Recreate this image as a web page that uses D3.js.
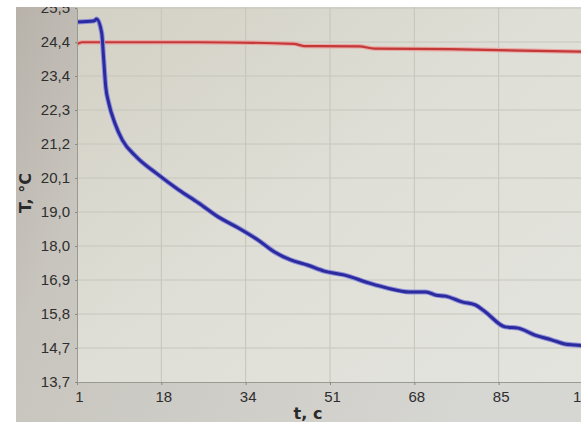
<!DOCTYPE html>
<html>
<head>
<meta charset="utf-8">
<script src="https://cdn.jsdelivr.net/npm/d3@7"></script>
<style>
  body { margin: 0; background: #fff; }
  #grafico { width: 581px; height: 422px; }
</style>
</head>
<body>
<div id="grafico"></div>
<script>
const xTickLabels = ["1", "18", "34", "51", "68", "85", "101"];
const yTickLabels = ["13,7", "14,7", "15,8", "16,9", "18,0", "19,0", "20,1", "21,2", "22,3", "23,4", "24,4", "25,5"];

const tAzul = [1, 4.3, 4.9, 5.9, 6.3, 6.7, 7.3, 8.5, 10, 12.8, 16.7, 21.2, 25.1, 29, 33, 36.9, 40.2, 43.4, 46.7, 50,
               53.9, 59, 62.4, 66.9, 70.2, 72.2, 74.1, 77.5, 80, 82, 85.9, 88.5, 91.8, 95.1, 97.7, 99.8, 101.3];
const valAzul = [25.06, 25.09, 25.15, 24.71, 23.86, 23.01, 22.5, 21.87, 21.33, 20.8, 20.29, 19.76, 19.35, 18.91, 18.56, 18.18, 17.8, 17.55, 17.39, 17.2,
                 17.08, 16.82, 16.67, 16.54, 16.54, 16.44, 16.41, 16.22, 16.13, 15.91, 15.44, 15.4, 15.18, 15.03, 14.9, 14.87, 14.85];

const tRojo = [1, 2, 25, 44, 46, 57, 60, 75, 101.3];
const valRojo = [24.36, 24.42, 24.42, 24.37, 24.3, 24.29, 24.22, 24.2, 24.12];

const W = 581, H = 422;
const xMin = 1, xMax = 101.35, yMin = 13.7, yMax = 25.5;

const x = d3.scaleLinear().domain([xMin, xMax]).range([77, 583]);
const y = d3.scaleLinear().domain([yMin, yMax]).range([382, 8]);

const xTicks = xTickLabels.map((d, i) => xMin + i * (xMax - xMin) / (xTickLabels.length - 1));
const yTicks = yTickLabels.map((d, i) => yMin + i * (yMax - yMin) / (yTickLabels.length - 1));

const svg = d3.select("#grafico").append("svg")
    .attr("width", W)
    .attr("height", H)
    .style("font-family", "'DejaVu Sans', sans-serif");

const defs = svg.append("defs");

defs.append("clipPath").attr("id", "foto")
    .append("rect").attr("x", 16).attr("y", 7).attr("width", W - 16).attr("height", H - 7);

defs.append("clipPath").attr("id", "area")
    .append("rect").attr("x", 76).attr("y", 0).attr("width", W).attr("height", 383);

const gFondo = defs.append("linearGradient").attr("id", "fondo")
    .attr("x1", 0).attr("y1", 0).attr("x2", 1).attr("y2", 0.3);
gFondo.append("stop").attr("offset", 0).attr("stop-color", "#b5afa7");
gFondo.append("stop").attr("offset", 0.25).attr("stop-color", "#c8c5be");
gFondo.append("stop").attr("offset", 1).attr("stop-color", "#d6d6d2");

const gPlot = defs.append("linearGradient").attr("id", "plot")
    .attr("x1", 0).attr("y1", 0).attr("x2", 1).attr("y2", 1);
gPlot.append("stop").attr("offset", 0).attr("stop-color", "#d3d0c4");
gPlot.append("stop").attr("offset", 0.5).attr("stop-color", "#dfdfd7");
gPlot.append("stop").attr("offset", 1).attr("stop-color", "#e3e4de");

const root = svg.append("g").attr("clip-path", "url(#foto)");

// Fondo de la pantalla
root.append("rect")
    .attr("x", 0).attr("y", 0).attr("width", W).attr("height", H)
    .attr("fill", "url(#fondo)");

// Franja azul arriba a la derecha
root.append("rect")
    .attr("x", 380).attr("y", 7).attr("width", 201).attr("height", 3)
    .attr("fill", "#8f97b8").attr("opacity", 0.6);

// Area del grafico
root.append("rect")
    .attr("x", x(xMin)).attr("y", 0)
    .attr("width", W - x(xMin)).attr("height", y(yMin))
    .attr("fill", "url(#plot)");

// Rejilla
const plotG = root.append("g").attr("clip-path", "url(#area)");

plotG.selectAll(".gx")
    .data(xTicks.slice(1))
    .enter().append("line")
    .attr("class", "gx")
    .attr("x1", d => x(d)).attr("x2", d => x(d))
    .attr("y1", 0).attr("y2", y(yMin))
    .attr("stroke", "#c4c4bb").attr("stroke-width", 1);

plotG.selectAll(".gy")
    .data(yTicks.slice(1))
    .enter().append("line")
    .attr("class", "gy")
    .attr("x1", x(xMin)).attr("x2", W)
    .attr("y1", d => y(d)).attr("y2", d => y(d))
    .attr("stroke", "#c6c6bd").attr("stroke-width", 1);

// Ejes
const ejeX = root.append("g")
    .attr("transform", `translate(0,${y(yMin)})`)
    .call(d3.axisBottom(x).tickValues(xTicks).tickSize(3).tickSizeOuter(0)
        .tickFormat((d, i) => xTickLabels[i]));
ejeX.select(".domain").attr("stroke", "#9a9a94");
ejeX.selectAll(".tick line").attr("stroke", "#8a8a84");
ejeX.selectAll("text")
    .attr("fill", "#2e2e2e")
    .attr("dy", "0.95em")
    .attr("dx", 2)
    .style("font-size", "15px");

const ejeY = root.append("g")
    .attr("transform", `translate(${x(xMin)},0)`)
    .call(d3.axisLeft(y).tickValues(yTicks).tickSize(2).tickSizeOuter(0)
        .tickFormat((d, i) => yTickLabels[i]));
ejeY.select(".domain").attr("stroke", "#9a9a94");
ejeY.selectAll(".tick line").attr("stroke", "#8a8a84");
ejeY.selectAll("text")
    .attr("fill", "#2e2e2e")
    .attr("x", -7)
    .style("font-size", "15px");

// Lineas
const lineaRoja = d3.line()
    .x((d, i) => x(tRojo[i]))
    .y(d => y(d))
    .curve(d3.curveMonotoneX);

const lineaAzul = d3.line()
    .x((d, i) => x(tAzul[i]))
    .y(d => y(d))
    .curve(d3.curveMonotoneX);

plotG.append("path")
    .datum(valRojo)
    .attr("d", lineaRoja)
    .attr("fill", "none")
    .attr("stroke", "#e8a8a4")
    .attr("stroke-width", 4.5);
plotG.append("path")
    .datum(valRojo)
    .attr("d", lineaRoja)
    .attr("fill", "none")
    .attr("stroke", "#c43838")
    .attr("stroke-width", 2.2);

plotG.append("path")
    .datum(valAzul)
    .attr("d", lineaAzul)
    .attr("fill", "none")
    .attr("stroke", "#8f8fd8")
    .attr("stroke-width", 5);
plotG.append("path")
    .datum(valAzul)
    .attr("d", lineaAzul)
    .attr("fill", "none")
    .attr("stroke", "#2b2a9e")
    .attr("stroke-width", 3);

// Titulos de ejes
root.append("text")
    .attr("x", 308).attr("y", 419)
    .attr("text-anchor", "middle")
    .attr("fill", "#2a2a2a")
    .style("font-size", "16px")
    .style("font-weight", "bold")
    .text("t, c");

root.append("text")
    .attr("transform", "translate(31,193) rotate(-90)")
    .attr("text-anchor", "middle")
    .attr("fill", "#2a2a2a")
    .style("font-size", "16px")
    .style("font-weight", "bold")
    .text("T, °C");
</script>
</body>
</html>
